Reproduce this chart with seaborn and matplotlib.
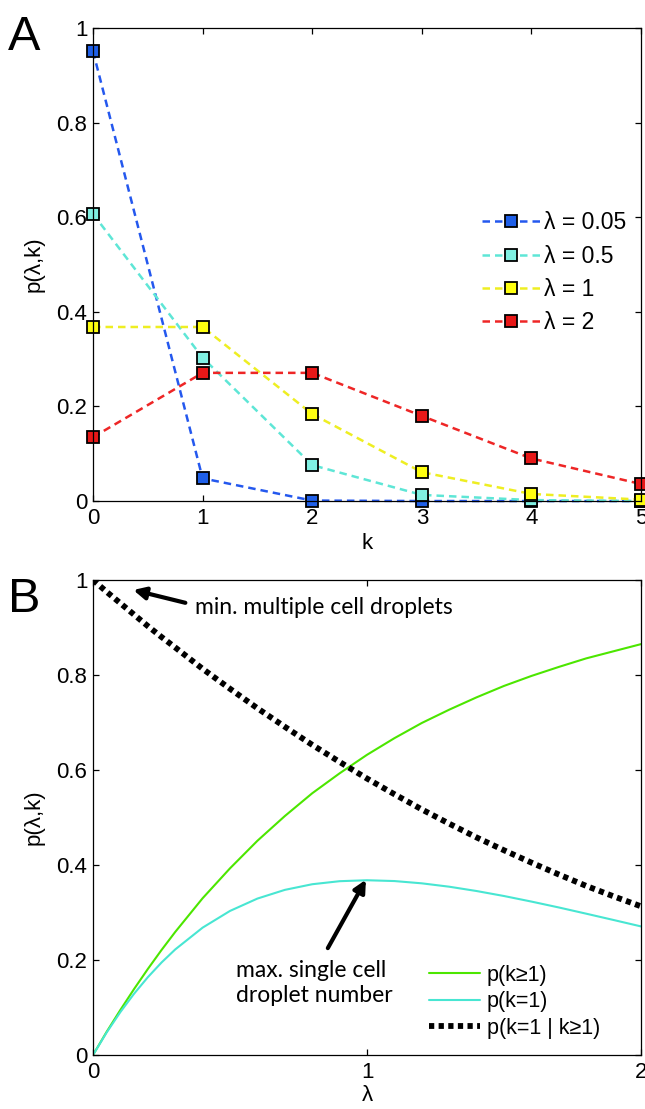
import matplotlib
matplotlib.use("Agg")
import matplotlib.pyplot as plt
import seaborn as sns

# ---------------- data ----------------
k_values = [0, 1, 2, 3, 4, 5]
p_lam005 = [0.951, 0.048, 0.001, 0.0, 0.0, 0.0]
p_lam05 = [0.607, 0.303, 0.076, 0.013, 0.002, 0.0]
p_lam1 = [0.368, 0.368, 0.184, 0.061, 0.015, 0.003]
p_lam2 = [0.135, 0.271, 0.271, 0.180, 0.090, 0.036]
series_labels = ["λ = 0.05", "λ = 0.5", "λ = 1", "λ = 2"]

lam_values = [0.0, 0.05, 0.1, 0.15, 0.2, 0.25, 0.3, 0.4, 0.5, 0.6, 0.7, 0.8, 0.9, 1.0,
              1.1, 1.2, 1.3, 1.4, 1.5, 1.6, 1.7, 1.8, 1.9, 2.0]
p_k_ge1 = [0.0, 0.049, 0.095, 0.139, 0.181, 0.221, 0.259, 0.330, 0.393, 0.451, 0.503,
           0.551, 0.593, 0.632, 0.667, 0.699, 0.727, 0.753, 0.777, 0.798, 0.817,
           0.835, 0.850, 0.865]
p_k_eq1 = [0.0, 0.0476, 0.0905, 0.1291, 0.1637, 0.1947, 0.2222, 0.2681, 0.3033, 0.3293,
           0.3476, 0.3595, 0.3659, 0.3679, 0.3662, 0.3614, 0.3543, 0.3452, 0.3347,
           0.3230, 0.3106, 0.2975, 0.2842, 0.2707]
p_cond = [1.0, 0.975, 0.951, 0.927, 0.903, 0.880, 0.858, 0.813, 0.771, 0.730, 0.691,
          0.653, 0.617, 0.582, 0.549, 0.517, 0.487, 0.458, 0.431, 0.405, 0.380,
          0.356, 0.334, 0.313]
curve_labels = ["p(k≥1)", "p(k=1)", "p(k=1 | k≥1)"]

# ---------------- style ----------------
sns.set_style("ticks", {"xtick.direction": "in", "ytick.direction": "in"})
plt.rcParams["font.family"] = ["Liberation Sans", "DejaVu Sans"]
plt.rcParams["font.size"] = 16
plt.rcParams["axes.edgecolor"] = "black"
plt.rcParams["axes.linewidth"] = 0.9
plt.rcParams["xtick.color"] = "black"
plt.rcParams["ytick.color"] = "black"
plt.rcParams["text.color"] = "black"
plt.rcParams["axes.labelcolor"] = "black"

fig = plt.figure(figsize=(6.45, 11.09), dpi=100)
axA = fig.add_axes([0.1442, 0.5482, 0.8496, 0.4265])
axB = fig.add_axes([0.1442, 0.0487, 0.8496, 0.4283])

line_colors = ["#2458EE", "#5EE6D6", "#EEEE22", "#EE2626"]
face_colors = ["#1F5FE8", "#80F0E2", "#FFFF10", "#E81818"]

for vals, lc, fc, lab in zip([p_lam005, p_lam05, p_lam1, p_lam2],
                             line_colors, face_colors, series_labels):
    sns.lineplot(x=k_values, y=vals, ax=axA, color=lc, linestyle=(0, (3, 2)),
                 linewidth=1.8, marker="s", markersize=8.5, markerfacecolor=fc,
                 markeredgecolor="black", markeredgewidth=1.3, clip_on=False,
                 label=lab, legend=False)

axA.set_xlim(0, 5)
axA.set_ylim(0, 1)
axA.set_xticks(k_values)
axA.set_yticks([0, 0.2, 0.4, 0.6, 0.8, 1.0])
axA.set_yticklabels(["0", "0.2", "0.4", "0.6", "0.8", "1"])
axA.set_xlabel("k", fontsize=16)
axA.set_ylabel("p(λ,k)", fontsize=16)
axA.xaxis.set_label_coords(0.5, -0.068)
axA.yaxis.set_label_coords(-0.088, 0.5)

handlesA = axA.get_lines()[:4]
axA.legend(handles=handlesA, labels=series_labels, loc="upper left",
           bbox_to_anchor=(471 / 645, 1 - 200 / 1109), bbox_transform=fig.transFigure,
           frameon=False, borderpad=0, handlelength=2.5, handletextpad=0.2,
           labelspacing=0.45, fontsize=16.5)

# panel B
sns.lineplot(x=lam_values, y=p_k_ge1, ax=axB, color="#4CE600", linewidth=1.5,
             label=curve_labels[0], legend=False)
sns.lineplot(x=lam_values, y=p_k_eq1, ax=axB, color="#48E6D2", linewidth=1.5,
             label=curve_labels[1], legend=False)
sns.lineplot(x=lam_values, y=p_cond, ax=axB, color="black", linewidth=4.2,
             linestyle=(0, (0.9, 0.75)), label=curve_labels[2], legend=False)

axB.set_xlim(0, 2)
axB.set_ylim(0, 1)
axB.set_xticks([0, 1, 2])
axB.set_yticks([0, 0.2, 0.4, 0.6, 0.8, 1.0])
axB.set_yticklabels(["0", "0.2", "0.4", "0.6", "0.8", "1"])
axB.set_xlabel("λ", fontsize=16)
axB.set_ylabel("p(λ,k)", fontsize=16)
axB.xaxis.set_label_coords(0.5, -0.064)
axB.yaxis.set_label_coords(-0.088, 0.5)

handlesB = axB.get_lines()[:3]
axB.legend(handles=handlesB, labels=curve_labels, loc="upper left",
           bbox_to_anchor=(418 / 645, 1 - 954 / 1109), bbox_transform=fig.transFigure,
           frameon=False, borderpad=0, handlelength=2.4, handletextpad=0.3,
           labelspacing=0.25, fontsize=15.5)

for ax in (axA, axB):
    ax.tick_params(axis="both", which="both", direction="in", top=True, right=True,
                   length=4, width=0.9, labelsize=16)
    ax.tick_params(axis="x", pad=5)
    ax.tick_params(axis="y", pad=4)
    for s in ax.spines.values():
        s.set_visible(True)
        s.set_color("black")
        s.set_linewidth(0.9)

# annotations
annot_font = ["Lato", "DejaVu Sans"]
axB.annotate("", xy=(0.147, 0.979), xytext=(0.337, 0.952),
             arrowprops=dict(arrowstyle="-|>", color="black", lw=3, mutation_scale=18,
                             shrinkA=0, shrinkB=0))
axB.text(0.372, 0.943, "min. multiple cell droplets", fontsize=16.5,
         family=annot_font, ha="left", va="center")
axB.annotate("", xy=(0.996, 0.369), xytext=(0.857, 0.225),
             arrowprops=dict(arrowstyle="-|>", color="black", lw=3, mutation_scale=18,
                             shrinkA=0, shrinkB=0))
axB.text(0.522, 0.152, "max. single cell\ndroplet number", fontsize=16.5,
         family=annot_font, ha="left", va="center", linespacing=1.25)

fig.text(8 / 645, 1 - 50 / 1109, "A", fontsize=35, ha="left", va="baseline")
fig.text(8 / 645, 1 - 612 / 1109, "B", fontsize=35, ha="left", va="baseline")

fig.savefig("out.png", dpi=100)
